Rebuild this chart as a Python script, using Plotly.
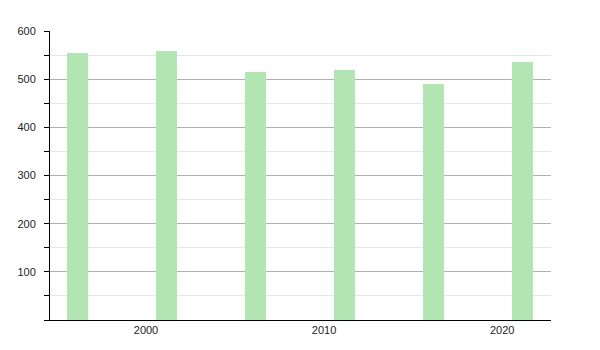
import plotly.graph_objects as go

years = [1996, 2001, 2006, 2011, 2016, 2021]
values = [555, 558, 514, 519, 490, 535]
x_ticks = [2000, 2010, 2020]
y_ticks = [100, 200, 300, 400, 500, 600]

fig = go.Figure()
fig.add_trace(go.Bar(
    x=years, y=values,
    width=1.18, offset=-0.45,
    marker=dict(color="#b2e5b2", line=dict(width=0)),
))

fig.update_layout(
    width=600, height=350,
    margin=dict(l=50, r=49, t=31, b=30),
    paper_bgcolor="white", plot_bgcolor="white",
    showlegend=False,
    bargap=0,
    font=dict(family="Liberation Sans, Arial, sans-serif", size=11, color="#222"),
)
fig.update_xaxes(
    range=[1994.61, 2022.74],
    tickvals=x_ticks, ticktext=[str(v) for v in x_ticks],
    showgrid=False, zeroline=False,
    showline=True, linecolor="black", linewidth=1,
    ticks="", ticklabelstandoff=0,
)
fig.update_yaxes(
    range=[0, 600],
    tickvals=y_ticks, ticktext=[str(v) for v in y_ticks],
    showgrid=True, gridcolor="#b0b0b0", gridwidth=1,
    zeroline=False,
    showline=True, linecolor="black", linewidth=1,
    ticks="outside", ticklen=5, tickcolor="black", tickwidth=1,
    ticklabelstandoff=6,
    minor=dict(dtick=50, tick0=0, showgrid=True, gridcolor="#e6e6e6",
               ticks="outside", ticklen=5, tickcolor="black", tickwidth=1),
)

fig.write_html("out.html")
